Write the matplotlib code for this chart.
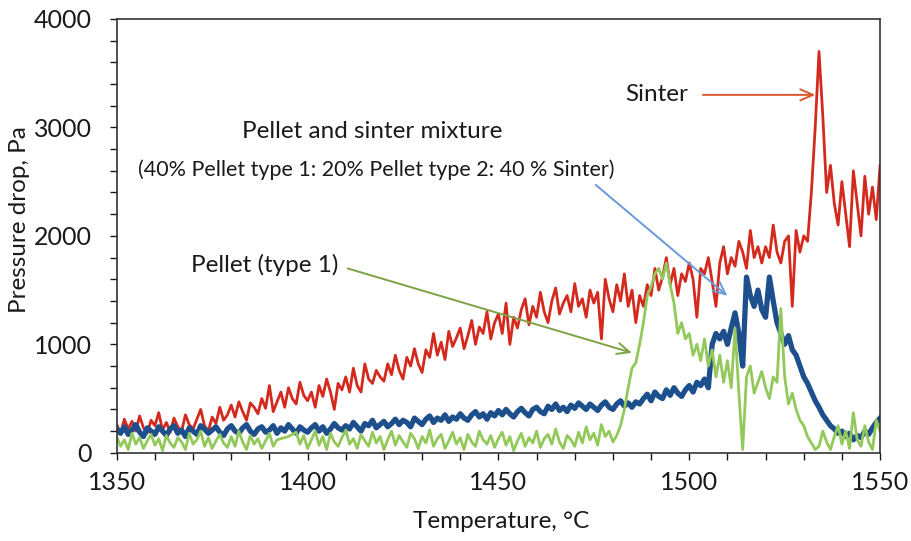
import numpy as np
import matplotlib
matplotlib.use("Agg")
from matplotlib import pyplot as plt
from matplotlib.ticker import MultipleLocator

plt.rcParams['font.family'] = ['Lato', 'DejaVu Sans']

# temperature, 1 degree steps
temp = np.arange(1350, 1551)

# Sinter
sinter = [
    260, 180, 310, 220, 290, 200, 340, 230, 180, 300,
    250, 370, 210, 280, 190, 320, 240, 200, 350, 260,
    220, 310, 400, 250, 200, 330, 270, 420, 300, 350,
    440, 330, 470, 380, 300, 460, 420, 360, 500, 410,
    620, 380, 470, 560, 420, 600, 500, 450, 650, 530,
    480, 560, 420, 620, 520, 680, 560, 400, 640, 580,
    700, 560, 780, 620, 560, 820, 680, 640, 760, 700,
    660, 820, 720, 900, 760, 680, 880, 800, 960, 820,
    740, 950, 880, 1100, 900, 1020, 860, 1120, 980, 1060,
    1150, 960, 1080, 1220, 1000, 1160, 1100, 1300, 1050, 1200,
    1280, 1100, 1380, 1000, 1250, 1150, 1320, 1420, 1180, 1350,
    1250, 1480, 1300, 1200, 1400, 1520, 1280, 1380, 1450, 1300,
    1560, 1350, 1420, 1250, 1500, 1380, 1480, 1050, 1600, 1420,
    1300, 1550, 1400, 1650, 1350, 1500, 1200, 1450, 1350, 1550,
    1450, 1700, 1500, 1620, 1800, 1550, 1700, 1450, 1650, 1580,
    1750, 1600, 1250, 1700, 1650, 1800, 1580, 1350, 1750, 1900,
    1650, 1800, 1720, 1950, 1850, 1700, 2050, 1800, 1900, 1750,
    1900, 1800, 2100, 1850, 1750, 1950, 2000, 1350, 2050, 1850,
    2000, 1950, 2400, 3000, 3700, 3100, 2400, 2650, 2300, 2100,
    2500, 2200, 1900, 2600, 2300, 2000, 2550, 2200, 2450, 2150,
    2650,
]

# Pellet and sinter mixture
mixture = [
    220, 180, 240, 170, 210, 260, 190, 150, 230, 200,
    170, 240, 200, 160, 220, 250, 180, 210, 150, 230,
    200, 170, 250, 220, 180, 210, 240, 190, 160, 220,
    250, 200, 180, 230, 260, 200, 170, 220, 240, 190,
    210, 250, 180, 230, 200, 260, 220, 180, 240, 210,
    190, 230, 260, 200, 240, 180, 220, 270, 230, 210,
    250, 220, 280, 240, 200, 270, 250, 300, 230, 260,
    290, 240, 270, 310, 260, 300, 280, 240, 320, 290,
    260, 310, 340, 280, 320, 300, 350, 290, 330, 310,
    360, 320, 300, 350, 380, 330, 360, 310, 370, 340,
    390, 350, 400, 360, 330, 380, 410, 370, 340, 400,
    420, 380, 360, 430, 400, 450, 390, 420, 380, 440,
    410, 460, 430, 400, 450, 420, 390, 440, 470, 420,
    400, 450, 480, 430, 460, 420, 470, 450, 500, 540,
    480, 560, 520, 500, 580, 530, 600, 550, 520, 580,
    620, 560, 650, 620, 680, 600, 1000, 1100, 1050, 1120,
    1000, 1150, 1290, 1100, 800, 1620, 1450, 1350, 1500, 1320,
    1250, 1620, 1400, 1200, 1100, 1000, 1080, 950, 900, 800,
    700, 640, 560, 480, 420, 350, 300, 250, 220, 180,
    200, 150, 180, 120, 160, 140, 200, 170, 230, 280,
    320,
]

# Pellet (type 1)
pellet = [
    150, 60, 120, 30, 180, 80, 140, 40, 110, 170,
    70, 130, 20, 160, 90, 50, 140, 100, 30, 180,
    80, 120, 200, 60, 140, 40, 110, 170, 90, 50,
    150, 60, 200, 100, 30, 160, 80, 130, 40, 110,
    180, 60, 120, 130, 140, 150, 170, 190, 80, 160,
    40, 120, 200, 70, 150, 30, 180, 100, 60, 140,
    210, 80, 130, 40, 170, 110, 60, 190, 90, 150,
    30, 120, 200, 70, 160, 100, 50, 180, 130, 40,
    150, 90, 210, 60, 130, 170, 40, 110, 190, 80,
    140, 30, 170, 100, 60, 200, 120, 80, 160, 50,
    130, 190, 70, 150, 20, 110, 180, 60, 140, 90,
    200, 50, 130, 170, 80, 220, 100, 40, 160, 120,
    60, 190, 90, 240, 120, 180, 70, 260, 150, 200,
    100, 160, 250, 400, 600, 780, 830, 1000, 1200, 1450,
    1530, 1650, 1700, 1600, 1750, 1550, 1380, 1100, 1200, 1050,
    1100, 900, 1000, 850, 1050, 800, 950, 700, 900, 650,
    850, 600, 1150, 550, 30, 700, 800, 550, 650, 750,
    600, 500, 700, 650, 1330, 700, 450, 550, 400, 300,
    250, 150, 90, 30, 60, 200, 100, 30, 150, 250,
    80, 200, 40, 370, 120, 60, 250, 100, 30, 300,
    200,
]

fig = plt.figure(figsize=(9.12, 5.41), dpi=100)
ax = fig.add_axes([0.128, 0.163, 0.837, 0.802])

ax.plot(temp, sinter, color='#d42a1e', lw=2.0)
ax.plot(temp, mixture, color='#1d4f8c', lw=3.8)
ax.plot(temp, pellet, color='#93c85a', lw=2.0)

ax.set_xlim(1350, 1550)
ax.set_ylim(0, 4000)
ax.xaxis.set_major_locator(MultipleLocator(50))
ax.xaxis.set_minor_locator(MultipleLocator(10))
ax.yaxis.set_major_locator(MultipleLocator(1000))
ax.yaxis.set_minor_locator(MultipleLocator(200))
ax.tick_params(which='both', direction='out', length=5, width=1, labelsize=18, colors='#1a1a1a')
ax.tick_params(axis='x', which='major', pad=8)
ax.tick_params(axis='y', which='major', pad=13)
for s in ax.spines.values():
    s.set_color('#333333')
    s.set_linewidth(1.2)

ax.set_xlabel('Temperature, °C', fontsize=17.5, color='#1a1a1a')
ax.xaxis.label.set_va('center')
ax.xaxis.set_label_coords(0.503, -0.158)
ax.set_ylabel('Pressure drop, Pa', fontsize=17.5, color='#1a1a1a')
ax.yaxis.label.set_va('center')
ax.yaxis.set_label_coords(-0.128, 0.537)

txt = dict(color='#1a1a1a', ha='center', va='center')
head = '->,head_length=0.9,head_width=0.4'

ax.text(1491.5, 3300, 'Sinter', fontsize=17.5, **txt)
ax.annotate('', xy=(1533, 3300), xytext=(1503.6, 3300),
            arrowprops=dict(arrowstyle=head, color='#d8572e', lw=1.4, shrinkA=0, shrinkB=0))

ax.text(1416.8, 2960, 'Pellet and sinter mixture', fontsize=17.5, **txt)
ax.text(1417.9, 2610, '(40% Pellet type 1: 20% Pellet type 2: 40 % Sinter)', fontsize=15.5, **txt)
ax.annotate('', xy=(1510, 1447), xytext=(1475.5, 2470),
            arrowprops=dict(arrowstyle=head, color='#6a98d8', lw=1.4, shrinkA=0, shrinkB=0))

ax.text(1388.8, 1733, 'Pellet (type 1)', fontsize=17.5, **txt)
ax.annotate('', xy=(1485, 922), xytext=(1410.5, 1700),
            arrowprops=dict(arrowstyle=head, color='#7ea346', lw=1.4, shrinkA=0, shrinkB=0))

fig.savefig('out.png', dpi=100)
